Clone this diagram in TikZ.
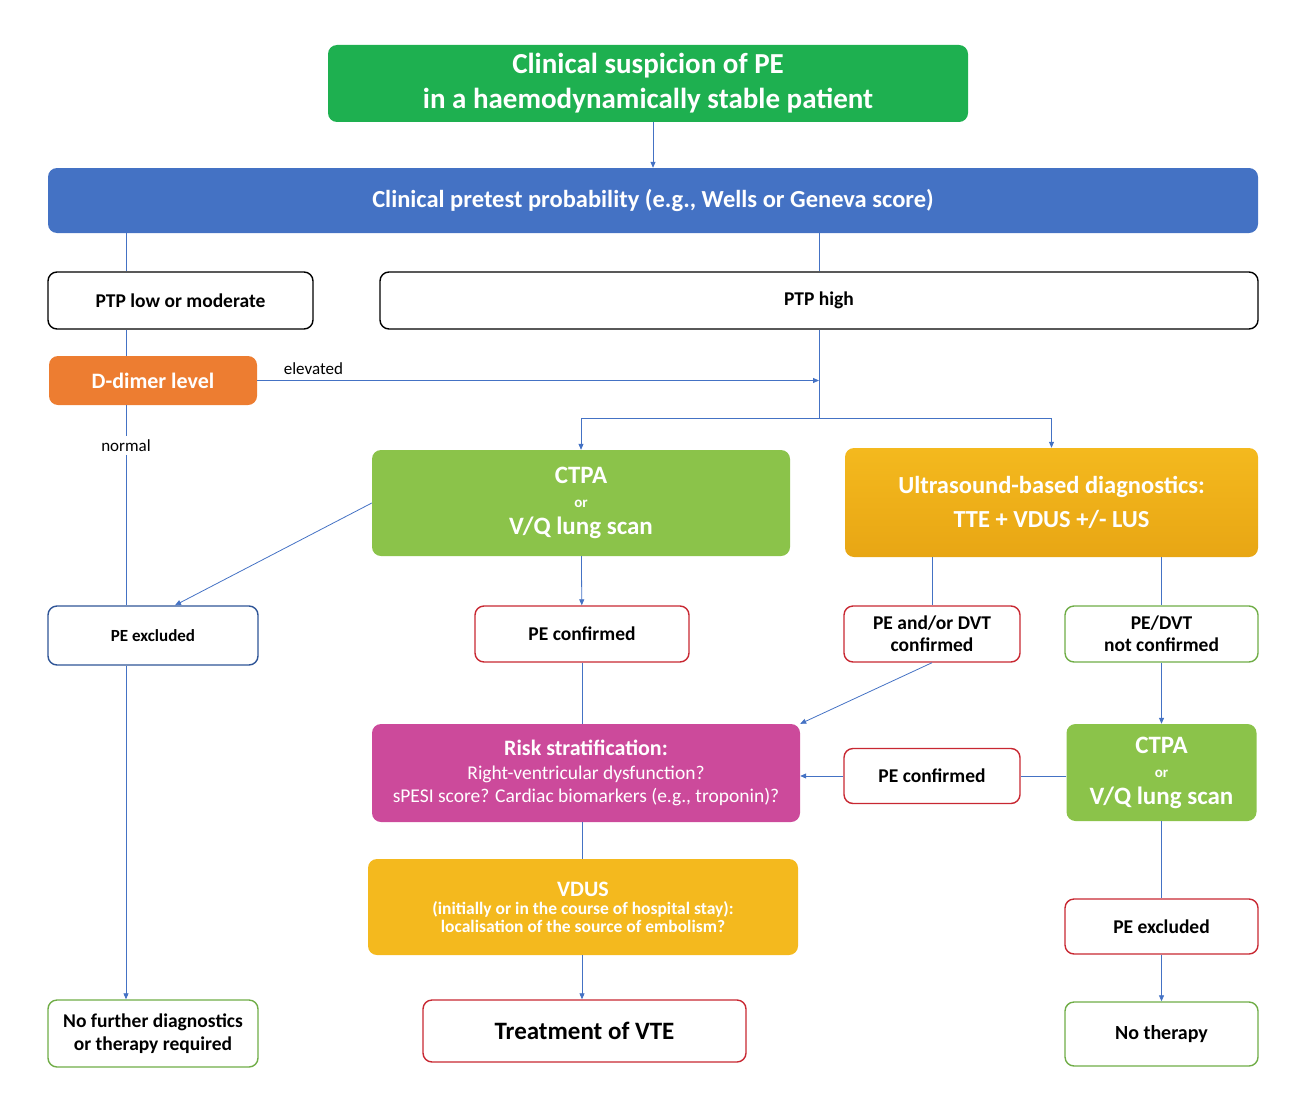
\documentclass[tikz,border=0pt]{standalone}
\usepackage{fontspec}
\setmainfont{Carlito}
\usetikzlibrary{arrows.meta, positioning}

\definecolor{startgreen}{RGB}{30,176,80}
\definecolor{ptpblue}{RGB}{68,114,196}
\definecolor{ddorange}{RGB}{237,125,49}
\definecolor{scangreen}{RGB}{139,195,74}
\definecolor{usgold}{RGB}{244,185,30}
\definecolor{usdark}{RGB}{232,166,20}
\definecolor{riskpink}{RGB}{204,74,155}
\definecolor{edgered}{RGB}{200,40,50}
\definecolor{edgegreen}{RGB}{112,173,71}
\definecolor{edgeblue}{RGB}{47,85,151}
\definecolor{linkblue}{RGB}{68,114,196}

\newcommand{\fsz}[1]{\fontsize{#1}{\the\dimexpr#1pt*6/5\relax}\selectfont}

\begin{document}
\begin{tikzpicture}[
			x=1pt, y=-1pt,
			box/.style={rectangle, rounded corners=9pt, align=center,
				inner sep=2pt, font=\bfseries},
			filled/.style={box, text=white},
			outline/.style={box, draw, line width=1.4pt, fill=white},
			arrow/.style={-{Triangle[length=6pt, width=5pt]}, linkblue, line width=0.8pt},
			link/.style={linkblue, line width=0.8pt},
			lbl/.style={text=black, font=\fsz{17}}
			]
			\useasboundingbox (0,0) rectangle (1297,1105);
			\coordinate (lcol) at (126,0);
			
			% top
			\node[filled, fill=startgreen, minimum width=640pt, minimum height=77pt,
			font=\bfseries\fsz{29}] (susp) at (648,83.5)
			{Clinical suspicion of PE\\ in a haemodynamically stable patient};
			\node[filled, fill=ptpblue, minimum width=1210pt, minimum height=65pt,
			font=\bfseries\fsz{24.5}] (pretest) at (653,200.5)
			{Clinical pretest probability (e.g., Wells or Geneva score)};
			
			% ptp
			\node[outline, minimum width=265pt, minimum height=57pt,
			font=\bfseries\fsz{19.5}] (ptplow) at (180.5,300.5) {PTP low or moderate};
			\node[outline, minimum width=878pt, minimum height=57pt,
			font=\bfseries\fsz{19.5}] (ptphigh) at (819,300.5) {PTP high};
			\node[filled, fill=ddorange, minimum width=208pt, minimum height=49pt,
			font=\bfseries\fsz{22}] (ddimer) at (153,380.5) {D-dimer level};
			\coordinate (split) at (819,380.5);
			\coordinate (fork) at (819,418);
			
			% imaging
			\node[filled, fill=scangreen, minimum width=418pt, minimum height=106pt,
			font=\bfseries\fsz{25}] (ctpa) at (581,503)
			{CTPA\\[-6pt] {\fsz{15}or}\\[-3pt] V/Q lung scan};
			\node[filled, top color=usgold, bottom color=usdark, minimum width=413pt,
			minimum height=109pt, font=\bfseries\fsz{24.5}] (us) at (1051.5,502.5)
			{Ultrasound-based diagnostics:\\[5pt] TTE + VDUS +/- LUS};
			
			% results
			\node[outline, draw=edgeblue, minimum width=210pt, minimum height=59pt,
			font=\bfseries\fsz{17}] (excl) at (153,635.5) {PE excluded};
			\node[outline, draw=edgered, minimum width=214pt, minimum height=56pt,
			font=\bfseries\fsz{19.5}] (conf) at (582,634) {PE confirmed};
			\node[outline, draw=edgered, minimum width=176pt, minimum height=56pt,
			font=\bfseries\fsz{19.5}] (dvtconf) at (932,634) {PE and/or DVT\\[-1pt] confirmed};
			\node[outline, draw=edgegreen, minimum width=193pt, minimum height=56pt,
			font=\bfseries\fsz{19.5}] (dvtnot) at (1161.5,634) {PE/DVT\\[-1pt] not confirmed};
			
			% risk
			\node[filled, fill=riskpink, minimum width=428pt, minimum height=98pt,
			font=\fsz{19.5}] (risk) at (586,773)
			{{\bfseries\fsz{22}Risk stratification:}\\[1pt]
				Right-ventricular dysfunction?\\ sPESI score? Cardiac biomarkers (e.g., troponin)?};
			\node[outline, draw=edgered, minimum width=176pt, minimum height=55pt,
			font=\bfseries\fsz{19.5}] (conf2) at (932,776) {PE confirmed};
			\node[filled, fill=scangreen, minimum width=190pt, minimum height=97pt,
			font=\bfseries\fsz{25}] (ctpa2) at (1161.5,772.5)
			{CTPA\\[-6pt] {\fsz{15}or}\\[-3pt] V/Q lung scan};
			
			% bottom
			\node[filled, fill=usgold, minimum width=430pt, minimum height=96pt,
			font=\bfseries\fsz{17.5}] (vdus) at (583,907)
			{{\fsz{22}VDUS}\\[-3pt] (initially or in the course of hospital stay):\\[-3pt]
				localisation of the source of embolism?};
			\node[outline, draw=edgered, minimum width=193pt, minimum height=55pt,
			font=\bfseries\fsz{19.5}] (excl2) at (1161.5,926.5) {PE excluded};
			\node[outline, draw=edgegreen, minimum width=210pt, minimum height=67pt,
			font=\bfseries\fsz{19.5}] (nofurther) at (153,1033.5)
			{No further diagnostics\\ or therapy required};
			\node[outline, draw=edgered, minimum width=323pt, minimum height=62pt,
			font=\bfseries\fsz{25}] (treat) at (584.5,1031) {Treatment of VTE};
			\node[outline, draw=edgegreen, minimum width=193pt, minimum height=64pt,
			font=\bfseries\fsz{20}] (nother) at (1161.5,1034) {No therapy};
			
			% connectors
			\draw[arrow] (susp.south -| pretest) -- (pretest);
			\draw[link] (pretest.south -| lcol) -- (ptplow.north -| lcol);
			\draw[link] (pretest.south -| ptphigh) -- (ptphigh);
			\draw[link] (ptplow.south -| lcol) -- (ddimer.north -| lcol);
			\draw[arrow] (ddimer) -- node[lbl, above=2pt, pos=0.1] {elevated} (split);
			\draw[link] (ptphigh) -- (fork);
			\draw[arrow] (fork) -| (ctpa);
			\draw[arrow] (fork) -| (us);
			\draw[link] (ddimer.south -| lcol) -- node[lbl, fill=white, pos=0.2] {normal}
			(excl.north -| lcol);
			\draw[arrow] (ctpa.west) -- ([xshift=22pt]excl.north);
			\draw[arrow] (ctpa) -- (conf);
			\draw[link] (us.south -| dvtconf) -- (dvtconf);
			\draw[link] (us.south -| dvtnot) -- (dvtnot);
			\draw[link] (conf) -- (risk.north -| conf);
			\draw[arrow] (dvtconf.south) -- (risk.north east);
			\draw[arrow] (dvtnot) -- (ctpa2);
			\draw[link] (ctpa2.west |- conf2) -- (conf2);
			\draw[arrow] (conf2) -- (risk.east |- conf2);
			\draw[link] (risk.south -| conf) -- (vdus.north -| conf);
			\draw[arrow] (vdus.south -| conf) -- (treat.north -| conf);
			\draw[link] (ctpa2) -- (excl2);
			\draw[arrow] (excl2) -- (nother);
			\draw[arrow] (excl.south -| lcol) -- (nofurther.north -| lcol);
		\end{tikzpicture}
\end{document}
